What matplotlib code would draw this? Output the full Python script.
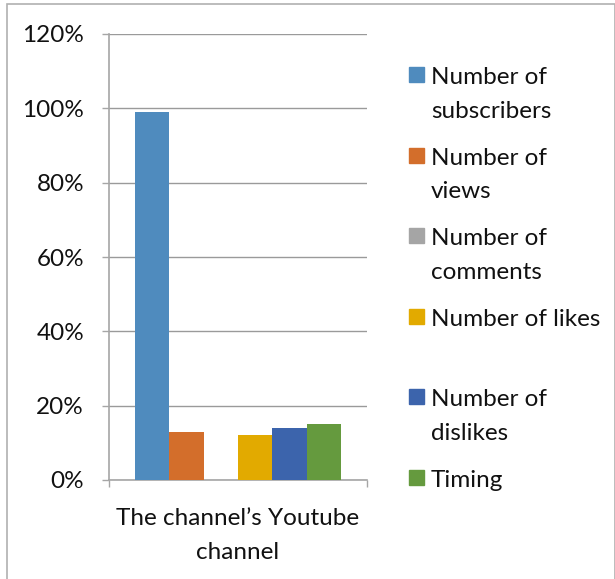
import matplotlib
matplotlib.use("Agg")
import matplotlib.pyplot as plt
from matplotlib.patches import Rectangle
from matplotlib.ticker import PercentFormatter

# data
category = "The channel\u2019s Youtube\nchannel"
series = ["Number of\nsubscribers", "Number of\nviews", "Number of\ncomments",
          "Number of likes", "Number of\ndislikes", "Timing"]
values = [99, 13, 0, 12, 14, 15]
colors = ["#4F8BBE", "#D36E2B", "#A5A5A5", "#E2AA00", "#3C64AC", "#659A3E"]

W, H = 615, 579
plt.rcParams['font.family'] = ['Lato', 'DejaVu Sans']
fig = plt.figure(figsize=(W / 100, H / 100), dpi=100)

# axes box in pixels: x 109..367, y 34..480
ax = fig.add_axes([109 / W, 1 - 480 / H, 258 / W, 446 / H])

bw = 0.1337
for i, (v, c) in enumerate(zip(values, colors)):
    ax.bar((i - 2.5) * bw, v, width=bw, color=c, linewidth=0, zorder=3)

ax.set_xlim(-0.5, 0.5)
ax.set_ylim(0, 120)
ax.set_yticks(range(0, 121, 20))
ax.yaxis.set_major_formatter(PercentFormatter(decimals=0))
ax.grid(axis='y', color='#9a9a9a', linewidth=1.0, zorder=0)

for s in ['top', 'right']:
    ax.spines[s].set_visible(False)
ax.spines['left'].set_color('#a6a6a6')
ax.spines['bottom'].set_color('#a6a6a6')
ax.spines['left'].set_linewidth(1.2)
ax.spines['bottom'].set_linewidth(1.2)

ax.tick_params(axis='y', length=5, width=1, color='#a6a6a6', pad=13,
               labelsize=17.5, labelcolor='#111111')
ax.set_xticks([0])
ax.set_xticklabels([category], linespacing=1.75)
ax.set_xticks([-0.5, 0.5], minor=True)
ax.tick_params(axis='x', which='major', length=0, pad=20, labelsize=17.5,
               labelcolor='#111111')
ax.tick_params(axis='x', which='minor', length=5, width=1, color='#a6a6a6')

# legend drawn as fixed slots like the original
marker_top = 67
slot = 80.6
for i, (lab, c) in enumerate(zip(series, colors)):
    y0 = marker_top + i * slot
    fig.patches.append(Rectangle((409 / W, 1 - (y0 + 15) / H), 15 / W, 15 / H,
                                 transform=fig.transFigure, color=c))
    fig.text(431 / W, 1 - y0 / H, lab, fontsize=17.5, va='top', ha='left',
             color='#111111', linespacing=1.75)

# outer chart border
fig.patches.append(Rectangle((7 / W, -0.05), (W - 7.5) / W, 1.05 - 4 / H,
                             transform=fig.transFigure, fill=False,
                             edgecolor='#b0b0b0', linewidth=1.2))

fig.savefig("out.png", dpi=100)
